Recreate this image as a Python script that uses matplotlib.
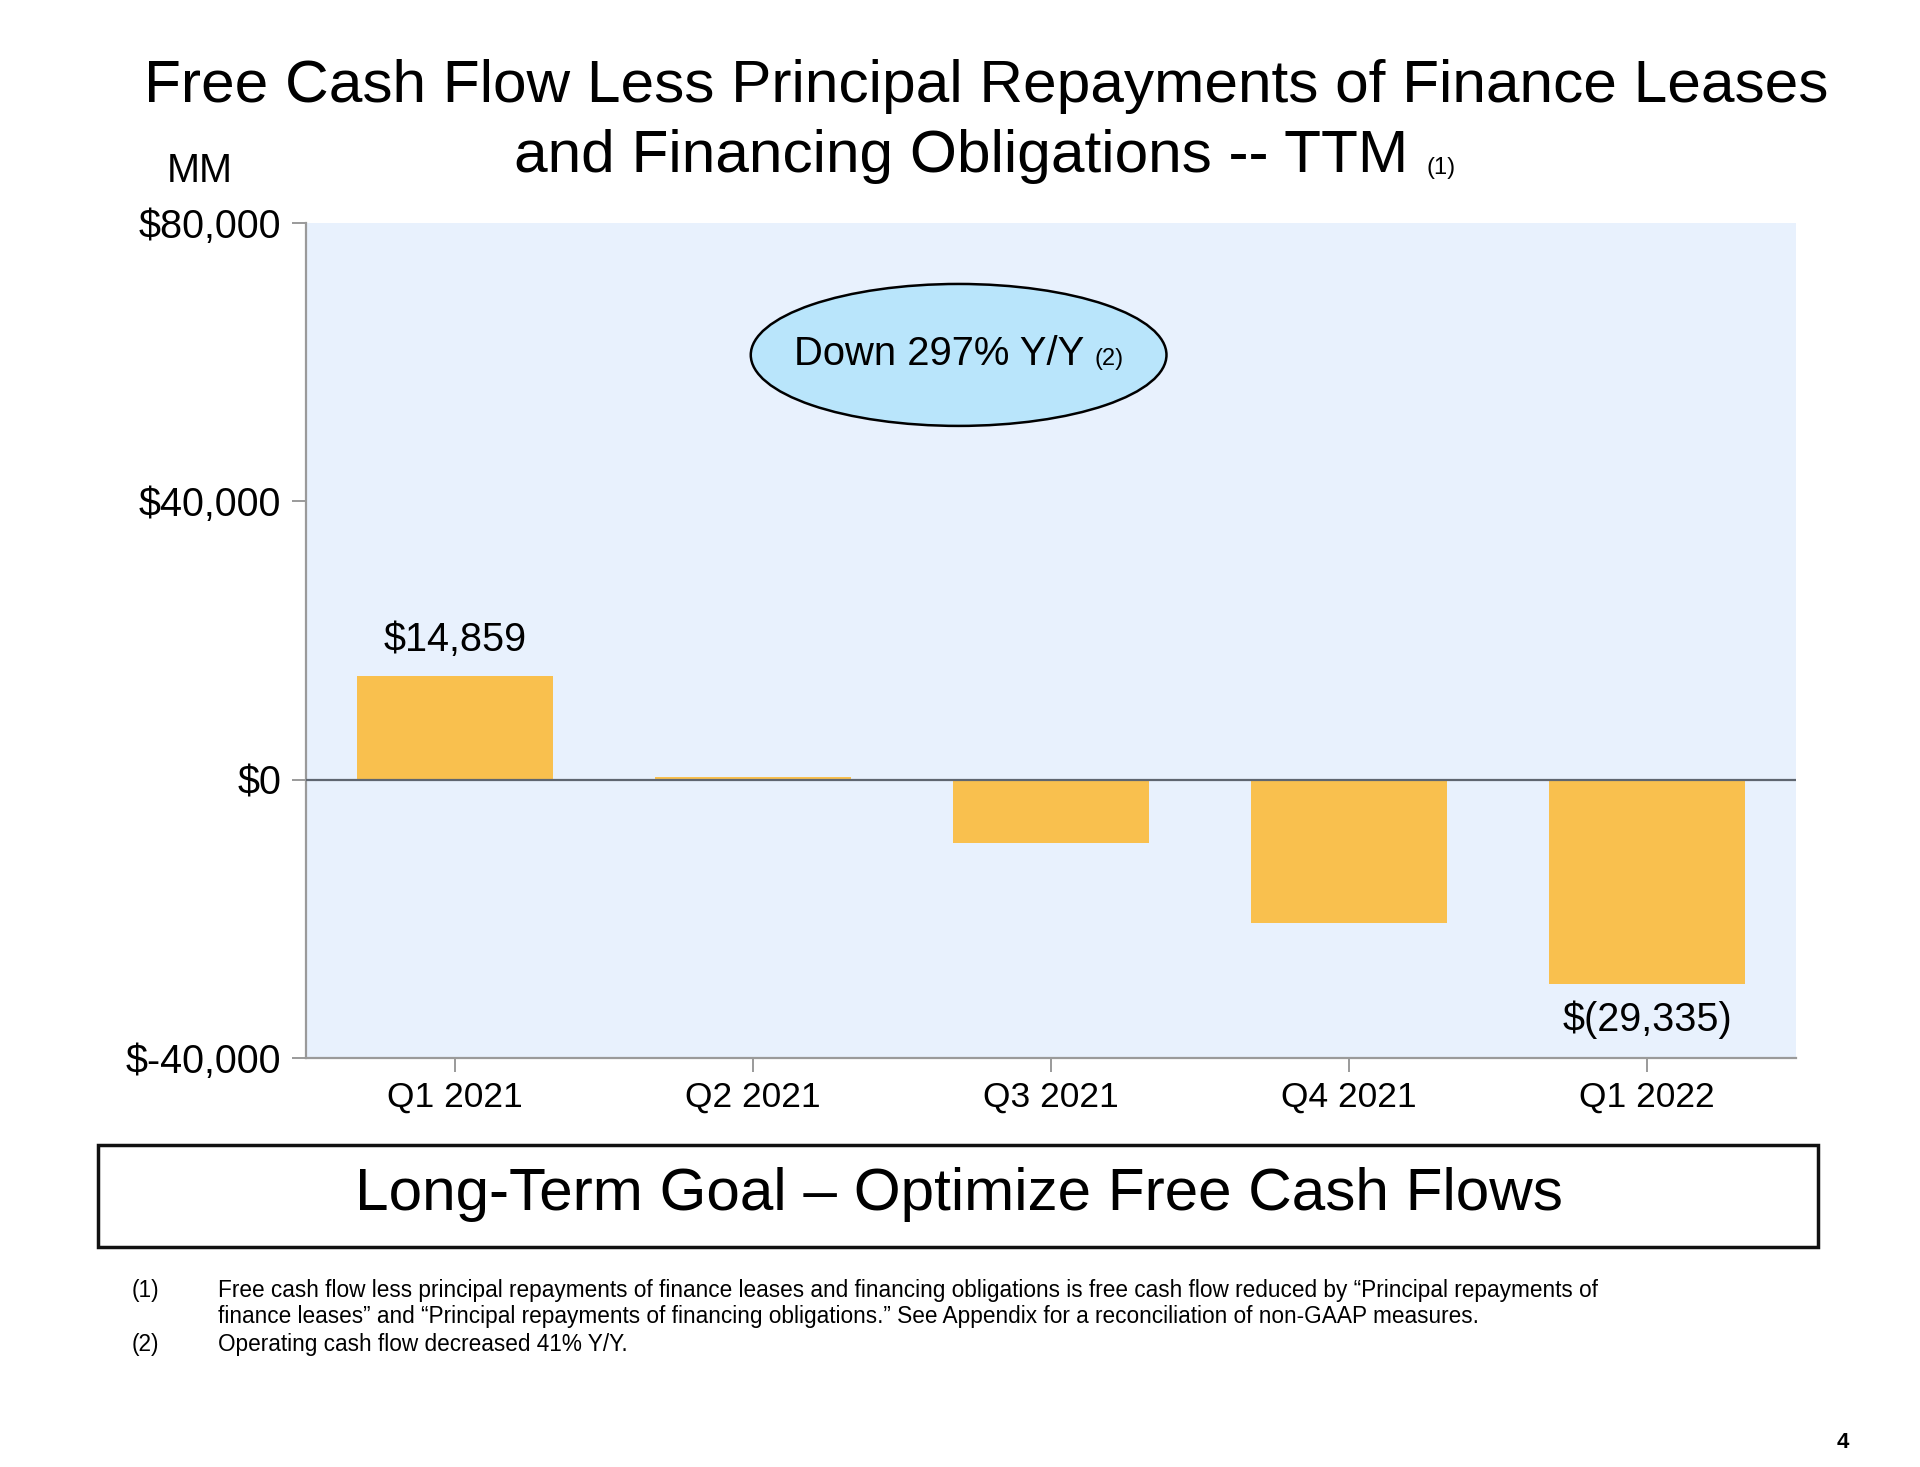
import matplotlib
matplotlib.use("Agg")
import matplotlib.pyplot as plt
from matplotlib.patches import Ellipse, Rectangle

plt.rcParams['font.family'] = ['Liberation Sans', 'DejaVu Sans']

# data (MM, TTM)
quarters = ["Q1 2021", "Q2 2021", "Q3 2021", "Q4 2021", "Q1 2022"]
fcf_less_repay = [14859, 420, -9050, -20650, -29335]
y_ticks = [-40000, 0, 40000, 80000]
y_tick_labels = ["$-40,000", "$0", "$40,000", "$80,000"]
bar_labels = {0: "$14,859", 4: "$(29,335)"}

fig = plt.figure(figsize=(19.2, 14.67), dpi=100)
W, H = 1920, 1467

def fx(px):
    return px / W

def fy(py):
    return 1 - py / H

# axes placed from pixel positions
ax = fig.add_axes([fx(306), fy(1058), fx(1796) - fx(306), fy(223) - fy(1058)])
ax.set_facecolor("#e8f1fd")

x = list(range(len(quarters)))
ax.bar(x, fcf_less_repay, width=0.66, color="#f9c04e", zorder=2)
ax.axhline(0, color="#5f6670", lw=1.6, zorder=3)

ax.set_xlim(-0.5, 4.5)
ax.set_ylim(-40000, 80000)
ax.set_yticks(y_ticks)
ax.set_yticklabels(y_tick_labels, fontsize=28.5)
ax.set_xticks(x)
ax.set_xticklabels(quarters, fontsize=25.5)

for s in ["top", "right"]:
    ax.spines[s].set_visible(False)
for s in ["left", "bottom"]:
    ax.spines[s].set_color("#9a9a9a")
    ax.spines[s].set_linewidth(1.6)
ax.tick_params(axis="both", direction="out", length=10, width=1.4, color="#9a9a9a")
ax.tick_params(axis="y", pad=8)
ax.tick_params(axis="x", pad=6)

# bar value labels
ax.text(0, fcf_less_repay[0] + 2500, bar_labels[0], ha="center", va="bottom", fontsize=28.5)
ax.text(4, fcf_less_repay[4] - 2400, bar_labels[4], ha="center", va="top", fontsize=28.5)

# callout ellipse
ell = Ellipse((0.438, 0.842), 0.279, 0.170, transform=ax.transAxes,
              facecolor="#b9e5fb", edgecolor="black", lw=1.8, zorder=4)
ax.add_patch(ell)
fig.text(fx(1084), fy(354), "Down 297% Y/Y", ha="right", va="center", fontsize=28.8, zorder=5)
fig.text(fx(1095), fy(359), "(2)", ha="left", va="center", fontsize=17, zorder=5)

# title
fig.text(fx(986), fy(86), "Free Cash Flow Less Principal Repayments of Finance Leases",
         ha="center", va="center", fontsize=43.5)
fig.text(fx(1408), fy(157), "and Financing Obligations -- TTM",
         ha="right", va="center", fontsize=43.5)
fig.text(fx(1427), fy(168), "(1)", ha="left", va="center", fontsize=17)
fig.text(fx(200), fy(171), "MM", ha="center", va="center", fontsize=28.5)

# goal box
box = Rectangle((fx(98), fy(1247)), fx(1818) - fx(98), fy(1145) - fy(1247),
                transform=fig.transFigure, fill=False, edgecolor="#111111", lw=2.5)
fig.patches.append(box)
fig.text(fx(959), fy(1195), "Long-Term Goal \u2013 Optimize Free Cash Flows",
         ha="center", va="center", fontsize=43.4)

# footnotes
notes = [
    ("(1)", "Free cash flow less principal repayments of finance leases and financing obligations is free cash flow reduced by \u201cPrincipal repayments of"),
    ("", "finance leases\u201d and \u201cPrincipal repayments of financing obligations.\u201d See Appendix for a reconciliation of non-GAAP measures."),
    ("(2)", "Operating cash flow decreased 41% Y/Y."),
]
for i, (num, txt) in enumerate(notes):
    yy = fy(1290 + i * 27)
    if num:
        fig.text(fx(132), yy, num, ha="left", va="center", fontsize=16.3)
    fig.text(fx(218), yy, txt, ha="left", va="center", fontsize=16.3)

fig.text(fx(1843), fy(1442), "4", ha="center", va="center", fontsize=16, fontweight="bold")

fig.savefig("out.png", dpi=100)
